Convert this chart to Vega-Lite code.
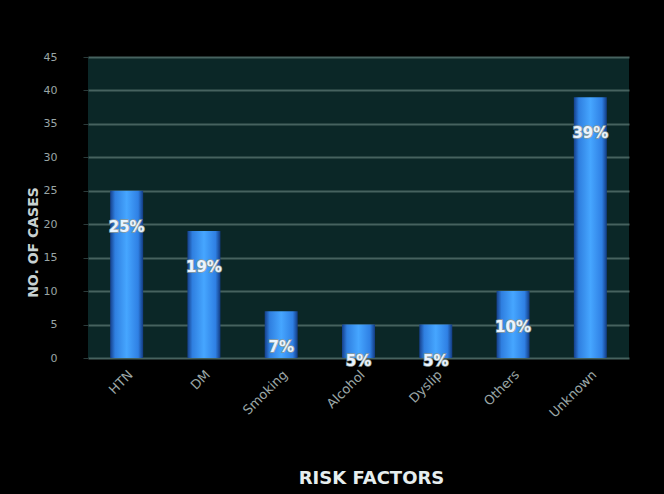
{
  "$schema": "https://vega.github.io/schema/vega-lite/v6.json",
  "autosize": {"type": "none"},
  "padding": {"left": 88, "top": 57, "right": 35, "bottom": 136},
  "width": 541,
  "height": 301,
  "background": "#000000",
  "data": {"values": [
    {"factor": "HTN", "pct": 25, "label": "25%"},
    {"factor": "DM", "pct": 19, "label": "19%"},
    {"factor": "Smoking", "pct": 7, "label": "7%"},
    {"factor": "Alcohol", "pct": 5, "label": "5%"},
    {"factor": "Dyslip", "pct": 5, "label": "5%"},
    {"factor": "Others", "pct": 10, "label": "10%"},
    {"factor": "Unknown", "pct": 39, "label": "39%"}
  ]},
  "config": {
    "view": {"fill": "#0b2727", "stroke": null},
    "font": "DejaVu Sans"
  },
  "encoding": {
    "x": {"field": "factor", "type": "nominal", "sort": null,
      "scale": {"paddingInner": 0.57, "paddingOuter": 0.285},
      "axis": {"title": "RISK FACTORS", "titleColor": "#e6eeee", "titleFontSize": 18, "titleFontWeight": "bold",
        "titleX": 283, "titleY": 120, "titleBaseline": "middle", "titleAnchor": "middle",
        "labelAngle": -45, "labelColor": "#9aa6a6", "labelFontSize": 13, "labelPadding": 10,
        "ticks": false, "domain": false}},
    "y": {"field": "pct", "type": "quantitative", "scale": {"domain": [0, 45]},
      "axis": {"values": [0,5,10,15,20,25,30,35,40,45], "title": "NO. OF CASES", "titleColor": "#c8d2d2",
        "titleFontSize": 14, "titleFontWeight": "bold", "titleX": -55, "titleY": 185, "titleAngle": -90,
        "titleAnchor": "middle", "titleBaseline": "middle",
        "labelColor": "#9aa6a6", "labelFontSize": 11, "labelPadding": 26,
        "tickColor": "#2a3a3a", "tickSize": 5, "domain": false,
        "grid": true, "gridColor": "#46625f", "gridWidth": 2}}
  },
  "layer": [
    {"mark": {"type": "bar", "size": 33,
      "color": {"gradient": "linear", "x1": 0, "x2": 1, "y1": 0, "y2": 0,
        "stops": [
          {"offset": 0, "color": "#153f8a"},
          {"offset": 0.15, "color": "#2f7fe0"},
          {"offset": 0.5, "color": "#46a6ff"},
          {"offset": 0.85, "color": "#2f80e4"},
          {"offset": 1, "color": "#123a80"}
        ]}}},
    {"mark": {"type": "text", "baseline": "middle", "align": "center", "dy": 36,
      "fontSize": 15, "fontWeight": "bold", "color": "#ffffff",
      "stroke": "#8a9a9a", "strokeWidth": 1.5},
      "encoding": {"text": {"field": "label"}}},
    {"mark": {"type": "text", "baseline": "middle", "align": "center", "dy": 36,
      "fontSize": 15, "fontWeight": "bold", "color": "#eaf4ff"},
      "encoding": {"text": {"field": "label"}}}
  ]
}
